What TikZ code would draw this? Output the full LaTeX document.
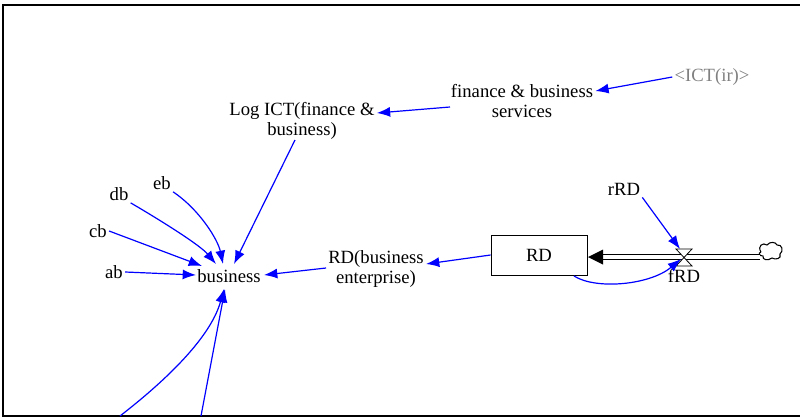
\documentclass[tikz,border=0pt]{standalone}
\usepackage{fontspec}
\setmainfont{Liberation Serif}
\usetikzlibrary{arrows.meta,calc}
\definecolor{linkblue}{RGB}{0,0,255}
\definecolor{shadowgray}{RGB}{128,128,128}
\tikzset{
  var/.style={inner sep=1.5pt, align=center, font=\fontsize{14}{15}\selectfont},
  link/.style={draw=linkblue, line width=0.9pt, -{Latex[length=10pt,width=7.5pt]}},
  frame/.style={line width=1.8pt}
}
\begin{document}
\begin{tikzpicture}[x=0.75pt,y=-0.75pt]
\useasboundingbox (0,0) rectangle (800,418);
% outer frame (open on the right)
\draw[frame] (800,5) -- (3,5) -- (3,416) -- (800,416);

% variables
\node[var] (fin) at (522,101) {finance \& business\\services};
\node[var, text=shadowgray] (ictir) at (712,77) {<ICT(ir)>};
\node[var] (logict) at (302,121) {Log ICT(finance \&\\business)};
\node[var] (bus) at (229,276) {business};
\node[var] (ab) at (114,272) {ab};
\node[var] (cb) at (98,231) {cb};
\node[var] (db) at (119,194) {db};
\node[var] (eb) at (162,183) {eb};
\node[var] (rdbe) at (376,269) {RD(business\\enterprise)};
\node[var] (rrd) at (624,189) {rRD};

% stock
\node[draw, line width=0.6pt, minimum width=72pt, minimum height=30pt, inner sep=0pt,
      font=\fontsize{14}{15}\selectfont] (rd) at (539,255) {RD};

% source cloud
\coordinate (cloud) at (770,250);
\draw[line width=0.8pt] (761,252)
  .. controls (757,246) and (763,242) .. (767,245)
  .. controls (770,241) and (776,242) .. (777,245)
  .. controls (782,244) and (784,251) .. (780,254)
  .. controls (782,259) and (775,260) .. (772,258)
  .. controls (768,261) and (762,260) .. (763,256)
  .. controls (759,256) and (758,253) .. (761,252);

% flow pipe and valve
\coordinate (valve) at (684,257);
\coordinate (pipeend) at (603,257);
\draw[line width=0.8pt, double distance=2.4pt] (760,257) -- (pipeend);
\fill (pipeend) ++(0,-7.5) -- ++(-15,7.5) -- ++(15,7.5) -- cycle;
\draw[line width=0.6pt, fill=white] (676,249) -- (692,249) -- (684,257.5) -- cycle;
\draw[line width=0.6pt, fill=white] (676,266) -- (692,266) -- (684,257.5) -- cycle;
\node[var, inner sep=0pt] (frd) at (684,276) {fRD};

% links
\draw[link] (ictir.west) -- (fin.east |- 0,91);
\draw[link] (450,107) -- (logict.east |- 0,113);
\draw[link] (295,140) -- (234,264);
\draw[link] (eb.south east) .. controls (200,210) and (218,240) .. (223,264);
\draw[link] (db.south east) .. controls (160,220) and (200,245) .. (216,264);
\draw[link] (cb.east) -- (202,266);
\draw[link] (ab.east) -- (196,275);
\draw[link] (rdbe.west |- 0,268) -- (264,275);
\draw[link] (rd.west) -- (rdbe.east |- 0,264);
\draw[link] (rrd.south east) -- (680,249);
\draw[link] (574,276) .. controls (596,290) and (650,285) .. (681,259);

% links entering from below
\coordinate (lowA) at (120,416);
\coordinate (lowB) at (201,416);
\draw[link] (lowA) .. controls (160,385) and (210,340) .. (224,289);
\draw[link] (lowB) -- (225,289);
\end{tikzpicture}
\end{document}
